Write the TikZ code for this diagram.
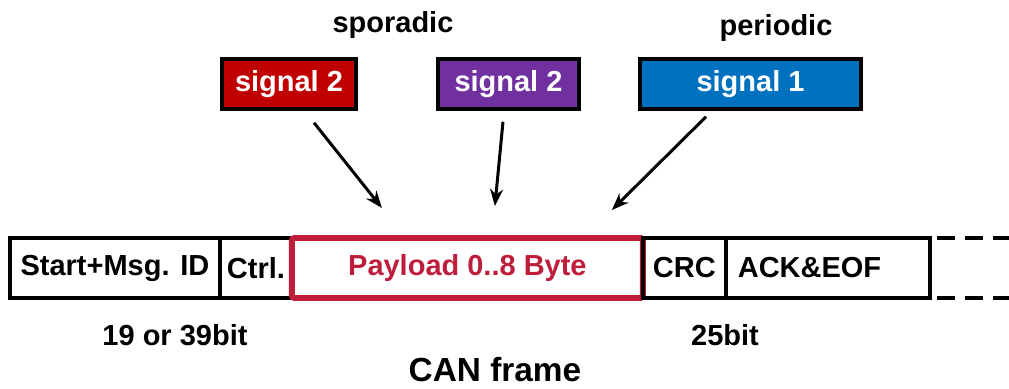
\documentclass[tikz,border=0pt]{standalone}
\usepackage{fontspec}
\setmainfont{Liberation Sans}
\usetikzlibrary{arrows.meta, positioning, chains, calc}
\definecolor{sigred}{RGB}{192,0,0}
\definecolor{sigpurple}{RGB}{112,48,160}
\definecolor{sigblue}{RGB}{0,112,192}
\definecolor{payred}{RGB}{190,30,60}
\tikzset{
  field/.style={draw, line width=2.3pt, minimum height=1.2cm, outer sep=0pt},
  sigbox/.style={draw, line width=2pt, fill=#1, text=white, minimum height=1cm},
  sigarrow/.style={-{Stealth[length=0.34cm, width=0.26cm]}, line width=1.7pt},
  tail/.style={line width=2.3pt, dash pattern=on 0.36cm off 0.2cm, dash phase=0.42cm}
}

\begin{document}
\begin{tikzpicture}[x=0.02cm, y=-0.02cm, start chain=1 going right, node distance=0mm,
    font=\bfseries\fontsize{16.5}{20}\selectfont]
  \useasboundingbox (0,0) rectangle (1009,389);
  % frame fields
  \node[field, on chain=1, anchor=north west, minimum width=4.2cm] (id) at (10,238) {Start+Msg. ID};
  \node[field, on chain=1, minimum width=1.44cm] (ctrl) {Ctrl.};
  \node[field, on chain=1, minimum width=7.02cm, draw=payred, line width=3.4pt, text=payred,
    rounded corners=1.5pt] (payload) {Payload 0..8 Byte};
  \node[field, on chain=1, minimum width=1.66cm] (crc) {CRC};
  \node[field, on chain=1, text width=3.6cm, inner xsep=0.24cm, align=left] (ack) {ACK\&EOF};
  \coordinate (tailN) at ($(ack.north east)+(79,0)$);
  \coordinate (tailS) at ($(ack.south east)+(79,0)$);
  \draw[tail] (ack.north east) -- (tailN);
  \draw[tail] (ack.south east) -- (tailS);
  % signals
  \node[sigbox=sigred, minimum width=2.68cm] (sigA) at (289,84) {signal 2};
  \node[sigbox=sigpurple, minimum width=2.82cm] (sigB) at (508.5,84) {signal 2};
  \node[sigbox=sigblue, minimum width=4.42cm] (sigC) at (750.5,84) {signal 1};
  \node (spor) at (393,25) {sporadic};
  \node (peri) at (776,28) {periodic};
  \draw[sigarrow] ([xshift=0.5cm, yshift=-0.24cm]sigA.south) -- ([xshift=1.8cm, yshift=0.6cm]payload.north west);
  \draw[sigarrow] ([xshift=-0.11cm, yshift=-0.22cm]sigB.south) -- ([xshift=4.06cm, yshift=0.64cm]payload.north west);
  \draw[sigarrow] ([xshift=-0.89cm, yshift=-0.12cm]sigC.south) -- ([xshift=6.4cm, yshift=0.56cm]payload.north west);
  % lengths
  \node (lenA) at (175,335) {19 or 39bit};
  \node (lenB) at (725,335) {25bit};
  \node[font=\bfseries\fontsize{19}{23}\selectfont, inner sep=0.5pt] (cap) at (495,370) {CAN frame};
\end{tikzpicture}
\end{document}
